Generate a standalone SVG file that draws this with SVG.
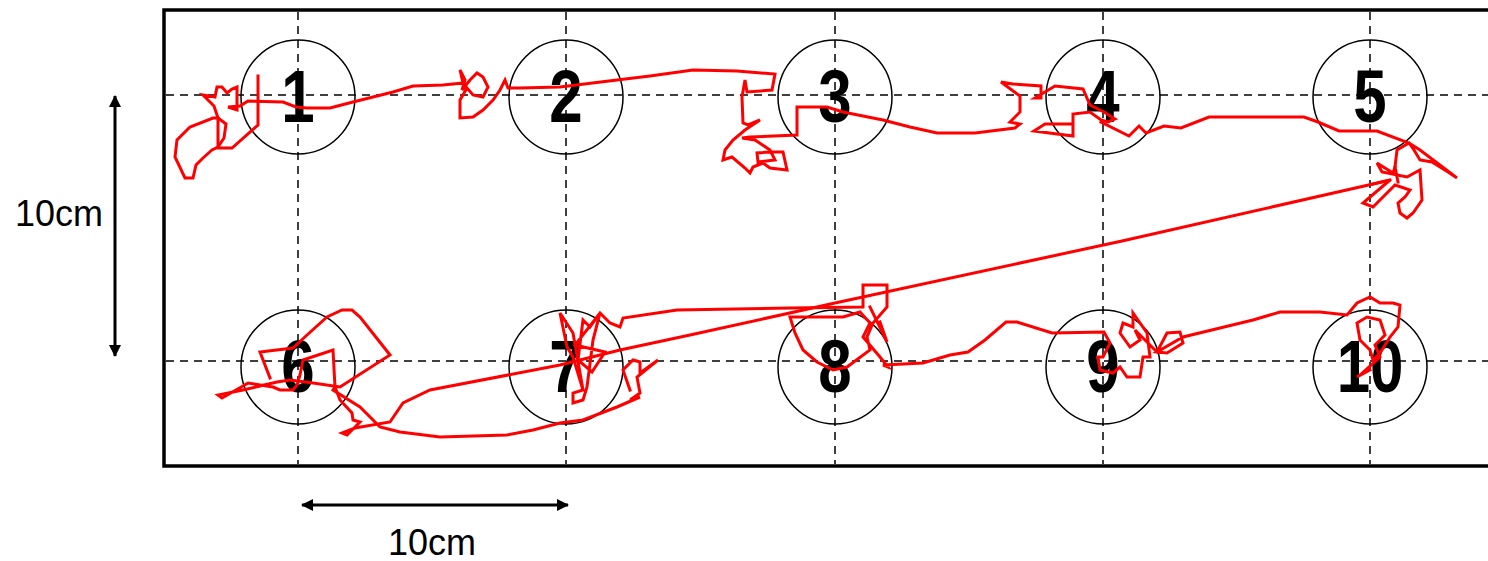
<svg xmlns="http://www.w3.org/2000/svg" width="1488" height="561" viewBox="0 0 1488 561">
<style>
.grid{stroke:#000;stroke-width:1.5;stroke-dasharray:8 6;fill:none}
.well{fill:none;stroke:#000;stroke-width:1.5}
.num{font-family:"Liberation Sans",Arial,sans-serif;font-weight:bold;font-size:75px;text-anchor:middle;fill:#000}
.lbl{font-family:"Liberation Sans",Arial,sans-serif;font-size:36px;fill:#000}
.track{fill:none;stroke:#ff0000;stroke-width:3;stroke-linejoin:miter;stroke-linecap:square}
.bar{stroke:#000;stroke-width:3;fill:none}
</style>
<defs>
<marker id="ah" viewBox="0 0 12 12" refX="11" refY="6" markerWidth="12" markerHeight="12" markerUnits="userSpaceOnUse" orient="auto-start-reverse">
<path d="M0,0 L12,6 L0,12 Z" fill="#000"/>
</marker>
</defs>
<rect width="1488" height="561" fill="#fff"/>
<g id="arena">
<rect x="164" y="10" width="1340" height="456" fill="none" stroke="#000" stroke-width="3.5"/>
<line class="grid" x1="298" y1="12" x2="298" y2="464"/>
<line class="grid" x1="566" y1="12" x2="566" y2="464"/>
<line class="grid" x1="835" y1="12" x2="835" y2="464"/>
<line class="grid" x1="1103" y1="12" x2="1103" y2="464"/>
<line class="grid" x1="1370" y1="12" x2="1370" y2="464"/>
<line class="grid" x1="166" y1="95" x2="1488" y2="95"/>
<line class="grid" x1="166" y1="361" x2="1488" y2="361"/>
</g>
<g id="w1"><circle class="well" cx="298" cy="97" r="57"/><text class="num" transform="translate(298,122) scale(0.8,1)">1</text></g>
<g id="w2"><circle class="well" cx="566" cy="97" r="57"/><text class="num" transform="translate(566,122) scale(0.8,1)">2</text></g>
<g id="w3"><circle class="well" cx="835" cy="97" r="57"/><text class="num" transform="translate(835,122) scale(0.8,1)">3</text></g>
<g id="w4"><circle class="well" cx="1103" cy="97" r="57"/><text class="num" transform="translate(1103,122) scale(0.8,1)">4</text></g>
<g id="w5"><circle class="well" cx="1370" cy="97" r="57"/><text class="num" transform="translate(1370,122) scale(0.8,1)">5</text></g>
<g id="w6"><circle class="well" cx="298" cy="367" r="57"/><text class="num" transform="translate(298,392) scale(0.8,1)">6</text></g>
<g id="w7"><circle class="well" cx="566" cy="367" r="57"/><text class="num" transform="translate(566,392) scale(0.8,1)">7</text></g>
<g id="w8"><circle class="well" cx="835" cy="367" r="57"/><text class="num" transform="translate(835,392) scale(0.8,1)">8</text></g>
<g id="w9"><circle class="well" cx="1103" cy="367" r="57"/><text class="num" transform="translate(1103,392) scale(0.8,1)">9</text></g>
<g id="w10"><circle class="well" cx="1370" cy="367" r="57"/><text class="num" transform="translate(1370,392) scale(0.8,1)">10</text></g>
<g id="track">
<polyline class="track" points="258,76 258,125 232,148 218,148 218,118 213,118 190,127 177,140 175,157 185,178 193,178 196,165 203,158 212,150 218,147"/>
<polyline class="track" points="218,118 226,124 224,138 218,147"/>
<polyline class="track" points="218,118 214,106 203,95 215,97 217,87 222,87 227,93 232,89 237,87 237,110 228,107 240,106 248,101 283,102 296,107 307,108 330,108 353,102 373,97 393,92 413,86 443,85 453,84 463,83 460,70 465,80 462,90 470,80 477,73 483,77 488,87 483,97 473,95 467,88 460,100 460,118 473,117 483,110 493,100 500,90 505,80 508,88 520,88 560,87 617,80 650,76 693,70 737,71 775,74 772,90 747,92 745,80 742,97 743,123 748,125 760,120 745,130 733,140 725,150 723,160 732,157 745,168 750,173 753,167 763,163 770,168 787,170 783,152 770,152 757,153 758,162 775,160 770,150 755,140 742,138 750,137 797,135 797,107 827,107 843,112 883,120 910,127 937,133 950,133 975,133 1015,128 1020,124 1010,122 1020,112 1020,96 1001,82 1013,84 1041,86 1041,98 1035,98 1055,86 1083,89 1090,105 1104,112 1115,119 1108,122 1101,120 1090,112 1073,114 1073,124 1045,124 1034,131 1073,136 1073,124"/>
<polyline class="track" points="1101,122 1129,136 1139,126 1146,133 1164,126 1181,128 1209,117 1304,117 1318,122 1339,131 1377,131 1409,143 1420,150 1457,178 1448,172 1432,162 1420,160 1414,150 1409,143 1397,150 1395,167 1398,182"/>
<polyline class="track" points="1395,167 1393,173 1377,163 1382,172 1407,177 1420,170 1422,200 1413,213 1407,218 1400,213 1398,203 1405,197 1410,190 1395,185 1373,207 1363,203 1390,180 1373,184"/>
<polyline class="track" points="1390,180 1373,184 1122,241 835,303 690,335 620,350 560,365 430,390 403,403 390,422 355,428 342,433 347,435 360,422 353,420 352,413 340,400 335,387 333,350 303,360 300,375 297,385 293,390 280,390 273,387 248,383 243,386 222,398 218,395 243,390 277,382 290,380 313,383 340,387 390,355 360,317 352,310 342,310 327,317 307,335 293,348 260,352 270,378"/>
<polyline class="track" points="335,387 333,390 360,407 380,427 400,432 440,437 507,435 533,430 560,423 583,420 617,407 640,397 630,400 640,393 637,377 658,360 640,373 640,362 633,360 623,370 630,390"/>
<polyline class="track" points="583,390 573,333 560,313 567,347 573,357 583,390 573,393 573,403 583,400 587,387 593,340 600,313 590,327 583,320 578,360 592,372 605,352 575,345 600,313 610,323 620,327 623,318 677,310 790,308 863,307 863,285 887,285 887,307 873,323 867,337 870,350 847,367 833,370 817,362 803,350 795,333 790,317 843,317 860,312 870,323 863,337 880,357 888,367 883,365 923,363 950,355 968,352 985,340 1006,322 1017,322 1052,333 1104,332 1110,343 1103,357 1098,357 1100,370 1113,373 1120,367 1127,377 1140,377 1143,357 1150,357 1147,333 1133,313 1133,327 1123,323 1120,333 1130,347 1140,340 1135,330 1157,352 1167,333 1180,332 1183,343 1167,353 1157,352 1183,337 1220,328 1253,320 1280,312 1320,312 1347,315 1357,303 1370,297 1380,303 1393,303 1400,305 1398,327 1390,337 1380,353 1373,360 1370,350 1360,340 1357,323 1367,317 1380,320 1385,335 1375,345 1380,357 1360,375 1357,377 1370,370"/>
<polyline class="track" points="880,322 887,342 870,307"/>
</g>
<g id="scalebars">
<line class="bar" x1="115" y1="96" x2="115" y2="356" marker-start="url(#ah)" marker-end="url(#ah)"/>
<text class="lbl" x="15" y="226">10cm</text>
<line class="bar" x1="302" y1="505" x2="568" y2="505" marker-start="url(#ah)" marker-end="url(#ah)"/>
<text class="lbl" x="432" y="555" text-anchor="middle">10cm</text>
</g>
</svg>
